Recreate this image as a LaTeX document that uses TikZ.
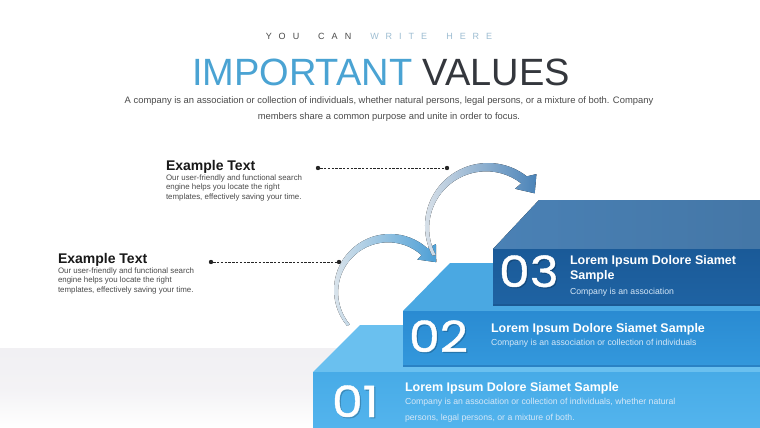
\documentclass[tikz,border=0pt]{standalone}
\usepackage{fontspec}
\setmainfont{Liberation Sans}
\newfontfamily\numfont{Poppins}[FakeBold=1.0,FakeStretch=1.14]
\usetikzlibrary{calc,fadings}
\definecolor{tagdark}{HTML}{4A4A4A}
\definecolor{taglight}{HTML}{9DBDD2}
\definecolor{titleblue}{HTML}{4AA3D3}
\definecolor{titledark}{HTML}{34373D}
\definecolor{bodygray}{HTML}{4A4A4A}
\definecolor{sonetop}{HTML}{6AC0EF}
\definecolor{sonefronta}{HTML}{47ABE7}
\definecolor{sonefrontb}{HTML}{53B4ED}
\definecolor{stwotop}{HTML}{4AA8E2}
\definecolor{stwofronta}{HTML}{2A8BD2}
\definecolor{stwofrontb}{HTML}{3398DC}
\definecolor{sthreetop}{HTML}{4A81B5}
\definecolor{sthreefronta}{HTML}{1A5A98}
\definecolor{sthreefrontb}{HTML}{1F63A3}
\definecolor{subtext}{HTML}{D4E7F7}
\definecolor{bandgray}{HTML}{F1F0F3}
\definecolor{arrowtail}{HTML}{E2E7EC}
\definecolor{arrowmidlow}{HTML}{B4D4EC}
\definecolor{arrowheadlow}{HTML}{4C9FD6}
\definecolor{arrowmidup}{HTML}{B3CBE0}
\definecolor{arrowheadup}{HTML}{4A83B8}
\begin{tikzfadingfrompicture}[name=tailfade]
  \fill[top color=white, bottom color=transparent!0, middle color=white] (0,0) rectangle (2,2);
\end{tikzfadingfrompicture}
\begin{document}
\begin{tikzpicture}[x=1pt,y=-1pt,
  every node/.style={inner sep=0pt,outer sep=0pt},
  headtxt/.style={font=\fontsize{14}{14}\selectfont\bfseries,text=black!90,anchor=base west},
  bodytxt/.style={font=\fontsize{7.9}{9.5}\selectfont,text=bodygray,anchor=north west,align=left},
  dotnode/.style={circle,fill=black!85,minimum size=4.4pt},
  leader/.style={black!85,line width=0.8pt,dash pattern=on 2.4pt off 1.4pt},
  numtxt/.style={font=\numfont\fontsize{43}{43}\selectfont,text=white,anchor=base west},
  numshadow/.style={font=\numfont\fontsize{43}{43}\selectfont,text=black,opacity=0.16,anchor=base west},
  steptitle/.style={font=\fontsize{12.5}{14.5}\selectfont\bfseries,text=white,anchor=base west},
  stepsub/.style={font=\fontsize{8.7}{8.7}\selectfont,text=subtext,anchor=base west},
  shadeline/.style={line width=1.2pt,opacity=0.35},
]
\useasboundingbox (0,0) rectangle (760,428);
\fill[white] (0,0) rectangle (760,428);
% grey floor band
\fill[top color=bandgray, bottom color=white, middle color=bandgray!85!white] (0,348) rectangle (760,428);

% header
\node (tag) at (379,36) {\fontsize{9}{9}\selectfont{\color{tagdark}Y\hspace{7pt}O\hspace{7pt}U\hspace{19pt}C\hspace{7pt}A\hspace{7pt}N}\hspace{19pt}{\color{taglight}W\hspace{7pt}R\hspace{7pt}I\hspace{7pt}T\hspace{7pt}E\hspace{19pt}H\hspace{7pt}E\hspace{7pt}R\hspace{7pt}E}};
\node[anchor=base] (title) at (381,85) {\fontsize{38}{38}\selectfont{\color{titleblue}IMPORTANT} {\color{titledark}VALUES}};
\node[anchor=base,font=\fontsize{9.4}{9.4}\selectfont,text=bodygray] (sub1) at (389,103.5) {A company is an association or collection of individuals, whether natural persons, legal persons, or a mixture of both. Company};
\node[anchor=base,font=\fontsize{9.4}{9.4}\selectfont,text=bodygray] (sub2) at (389,119.5) {members share a common purpose and unite in order to focus.};

% left text blocks
\node[headtxt] (h1) at (166,170) {Example Text};
\node[bodytxt] (b1) at (166,174.5) {Our user-friendly and functional search\\engine helps you locate the right\\templates, effectively saving your time.};
\node[headtxt] (h2) at (58,263) {Example Text};
\node[bodytxt] (b2) at (58,267.5) {Our user-friendly and functional search\\engine helps you locate the right\\templates, effectively saving your time.};

% leaders
\node[dotnode] (d1a) at (318,168) {};
\node[dotnode] (d1b) at (447,168) {};
\node[dotnode] (d2a) at (211,262) {};
\node[dotnode] (d2b) at (339,262) {};
\draw[leader] (d1a) -- (d1b);
\draw[leader] (d2a) -- (d2b);

% curved arrows (tapered band: inner edge on a shifted circle)
\coordinate (c1) at (390,290);
\coordinate (c1i) at (388.1,292.3);
\coordinate (c2) at (488,226);
\coordinate (c2i) at (486.1,228.3);
\fill[left color=arrowtail, middle color=arrowmidlow, right color=arrowheadlow, path fading=tailfade]
  ([shift={(140:56)}]c1) arc[start angle=140,end angle=312,radius=56]
  -- ([shift={(315:65)}]c1) -- ([shift={(329:54)}]c1) -- ([shift={(312:41)}]c1)
  -- ([shift={(312:50)}]c1i) arc[start angle=312,end angle=140,radius=50] -- cycle;
\fill[left color=arrowtail, middle color=arrowmidup, right color=arrowheadup, path fading=tailfade]
  ([shift={(152:63)}]c2) arc[start angle=152,end angle=308,radius=63]
  -- ([shift={(313:71)}]c2) -- ([shift={(325:57)}]c2) -- ([shift={(306:46)}]c2)
  -- ([shift={(308:57)}]c2i) arc[start angle=308,end angle=152,radius=57] -- cycle;

% step 01
\fill[sonetop] (313,372) -- (360,325) -- (760,325) -- (760,372) -- cycle;
\fill[top color=sonefronta, bottom color=sonefrontb] (313,372) rectangle (760,428);
% step 02
\fill[stwotop] (403,311) -- (450,263) -- (760,263) -- (760,311) -- cycle;
\fill[top color=stwofronta, bottom color=stwofrontb] (403,311) rectangle (760,366);
\draw[shadeline, sthreefronta] (403,366) -- (760,366);
% step 03
\fill[left color=sthreetop, right color=sthreetop!92!black] (493,249) -- (539,200) -- (760,200) -- (760,249) -- cycle;
\fill[top color=sthreefronta, bottom color=sthreefrontb] (493,249) rectangle (760,305);
\draw[shadeline, sthreefronta!80!black] (493,305) -- (760,305);

% numbers
\node[numshadow] at (500.2,288.2) {03};
\node[numtxt] (n3) at (499,287) {03};
\node[numshadow] at (410.2,353.2) {02};
\node[numtxt] (n2) at (409,352) {02};
\node[numshadow] at (333.2,418.2) {01};
\node[numtxt] (n1) at (332,417) {01};

% step texts
\node[steptitle] (t3a) at (570,264.5) {Lorem Ipsum Dolore Siamet};
\node[steptitle] (t3b) at (570,279) {Sample};
\node[stepsub] (s3) at (570,294) {Company is an association};
\node[steptitle] (t2) at (491,332) {Lorem Ipsum Dolore Siamet Sample};
\node[stepsub] (s2) at (491,345.5) {Company is an association or collection of individuals};
\node[steptitle] (t1) at (405,391) {Lorem Ipsum Dolore Siamet Sample};
\node[stepsub] (s1a) at (405,404.5) {Company is an association or collection of individuals, whether natural};
\node[stepsub] (s1b) at (405,420.5) {persons, legal persons, or a mixture of both.};
\end{tikzpicture}
\end{document}
